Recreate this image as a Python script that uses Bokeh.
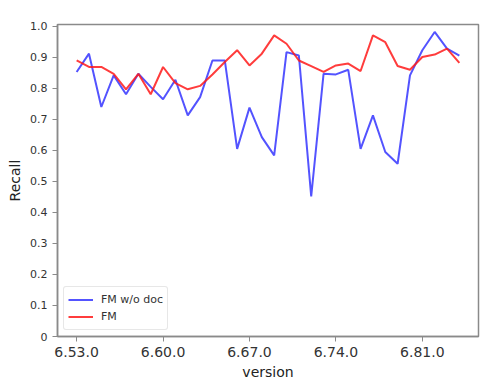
from bokeh.plotting import figure
from bokeh.models import ColumnDataSource, FixedTicker, Range1d, Legend, LegendItem
from bokeh.embed import file_html
from bokeh.resources import INLINE

versions = ["6.%d.0" % v for v in range(53, 85)]
fm_wo_doc = [0.853, 0.912, 0.740, 0.842, 0.781, 0.847, 0.805, 0.765, 0.828, 0.713,
             0.772, 0.890, 0.890, 0.605, 0.738, 0.643, 0.584, 0.917, 0.906, 0.452,
             0.847, 0.845, 0.860, 0.605, 0.713, 0.595, 0.557, 0.842, 0.923, 0.982,
             0.928, 0.906]
fm = [0.890, 0.869, 0.869, 0.847, 0.797, 0.847, 0.781, 0.869, 0.817, 0.797,
      0.808, 0.845, 0.885, 0.923, 0.874, 0.912, 0.971, 0.944, 0.890, 0.872,
      0.853, 0.874, 0.880, 0.856, 0.971, 0.949, 0.872, 0.860, 0.901, 0.909,
      0.928, 0.882]
x_tick_idx = [0, 7, 14, 21, 28]
y_ticks = [0.0, 0.1, 0.2, 0.3, 0.4, 0.5, 0.6, 0.7, 0.8, 0.9, 1.0]
y_tick_labels = ["0", "0.1", "0.2", "0.3", "0.4", "0.5", "0.6", "0.7", "0.8", "0.9", "1.0"]

idx = list(range(len(versions)))
src = ColumnDataSource(dict(x=idx, v=versions, a=fm_wo_doc, b=fm))

p = figure(width=500, height=388, output_backend="svg", toolbar_location=None,
           x_range=Range1d(-1.55, 32.55), y_range=Range1d(0, 1.006),
           min_border_left=57, min_border_right=22, min_border_top=24, min_border_bottom=52)
p.background_fill_color = "white"
p.border_fill_color = "white"
p.grid.visible = False
p.outline_line_color = "#8a8a8a"
p.outline_line_width = 1.5

r1 = p.line("x", "a", source=src, line_color="#2828ff", line_alpha=0.8, line_width=2)
r2 = p.line("x", "b", source=src, line_color="#ff1a1a", line_alpha=0.85, line_width=2)

p.xaxis.ticker = FixedTicker(ticks=x_tick_idx)
p.xaxis.major_label_overrides = {i: versions[i] for i in x_tick_idx}
p.yaxis.ticker = FixedTicker(ticks=y_ticks)
p.yaxis.major_label_overrides = {t: l for t, l in zip(y_ticks, y_tick_labels)}

for ax in (p.xaxis[0], p.yaxis[0]):
    ax.axis_line_color = "#8a8a8a"
    ax.axis_line_width = 1.5
    ax.major_tick_line_color = "#8a8a8a"
    ax.major_tick_out = 5
    ax.major_tick_in = 0
    ax.minor_tick_line_color = None
    ax.major_label_text_color = "#333333"
    ax.axis_label_text_color = "#222222"
    ax.axis_label_text_font = "DejaVu Sans"
    ax.major_label_text_font = "DejaVu Sans"
    ax.axis_label_text_font_style = "normal"
    ax.axis_label_text_font_size = "14px"

p.xaxis.major_label_text_font_size = "14px"
p.yaxis.major_label_text_font_size = "11px"
p.xaxis.axis_label = "version"
p.yaxis.axis_label = "Recall"
p.xaxis.major_label_standoff = 5
p.yaxis.major_label_standoff = 5
p.xaxis.axis_label_standoff = 4
p.yaxis.axis_label_standoff = 4

legend = Legend(items=[LegendItem(label="FM w/o doc", renderers=[r1]),
                       LegendItem(label="FM", renderers=[r2])],
                location="bottom_left")
legend.margin = 6
legend.padding = 4
legend.spacing = 0
legend.glyph_width = 25
legend.glyph_height = 17
legend.label_height = 17
legend.label_standoff = 8
legend.label_text_font = "DejaVu Sans"
legend.label_text_font_size = "11px"
legend.label_text_color = "#333333"
legend.border_line_color = "#d0d0d0"
legend.border_radius = 3
legend.background_fill_alpha = 0.8
p.add_layout(legend)

open("out.html", "w").write(file_html(p, INLINE))
